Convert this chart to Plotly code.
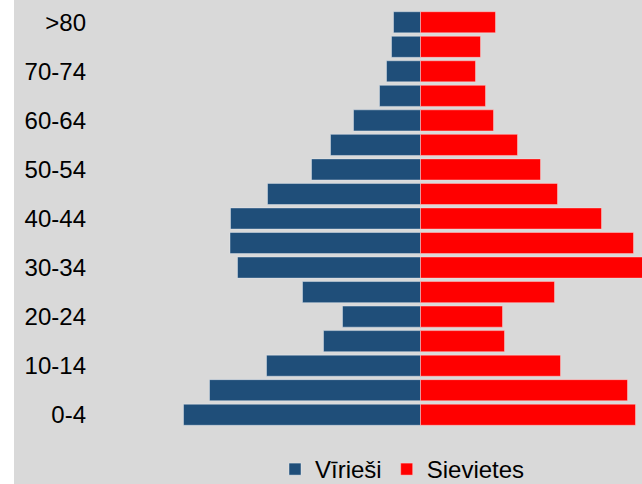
import plotly.graph_objects as go

age_groups = ["0-4", "5-9", "10-14", "15-19", "20-24", "25-29", "30-34", "35-39",
              "40-44", "45-49", "50-54", "55-59", "60-64", "65-69", "70-74", "75-79", ">80"]
males = [237, 211, 154, 97, 78, 118, 183, 190.5, 190, 153, 109, 90, 67, 41, 34, 29, 27]
females = [215, 207, 140, 84, 82, 134, 228, 213, 181, 137, 120, 97, 73, 65, 55, 60, 75]
tick_labels = ["0-4", "10-14", "20-24", "30-34", "40-44", "50-54", "60-64", "70-74", ">80"]

BG = "#d9d9d9"
FONT = "Liberation Sans, Arial, sans-serif"
L, R, T, B = 90, 0, 10, 57
W, H = 642, 484
PW = W - L - R

fig = go.Figure()
fig.add_trace(go.Bar(
    y=age_groups, x=[-v for v in males], orientation="h", name="Vīrieši",
    marker=dict(color="#1f4e79", line=dict(color="rgba(235,240,245,0.55)", width=0.8)),
))
fig.add_trace(go.Bar(
    y=age_groups, x=females, orientation="h", name="Sievietes",
    marker=dict(color="#ff0000", line=dict(color="rgba(255,225,225,0.55)", width=0.8)),
))

fig.update_layout(
    width=W, height=H,
    margin=dict(l=L, r=R, t=T, b=B, pad=0),
    paper_bgcolor=BG, plot_bgcolor=BG,
    barmode="relative", bargap=0.14,
    font=dict(family=FONT, size=24, color="#000000"),
    showlegend=True,
    legend=dict(orientation="h", xref="paper", x=(275 - L) / PW, xanchor="left",
                yref="container", y=(H - 447) / H, yanchor="top",
                bgcolor="rgba(0,0,0,0)",
                font=dict(family=FONT, size=24, color="#000000"),
                itemwidth=30, traceorder="normal"),
    xaxis=dict(range=[L - 420.5, W - 420.5], visible=False, fixedrange=True),
    yaxis=dict(type="category", categoryorder="array", categoryarray=age_groups,
               range=[-0.5, len(age_groups) - 0.5],
               tickmode="array", tickvals=tick_labels, ticktext=tick_labels,
               ticks="", ticklabelstandoff=3,
               showgrid=False, zeroline=False, showline=False,
               tickfont=dict(family=FONT, size=24, color="#000000")),
    shapes=[dict(type="rect", xref="paper", yref="paper",
                 x0=-L / PW, x1=(14 - L) / PW, y0=-0.2, y1=1.1,
                 fillcolor="#ffffff", line=dict(width=0), layer="below")],
)

fig.write_html("out.html", config={"displayModeBar": False},
               post_script="document.body.style.margin='0';document.body.style.overflow='hidden';")
